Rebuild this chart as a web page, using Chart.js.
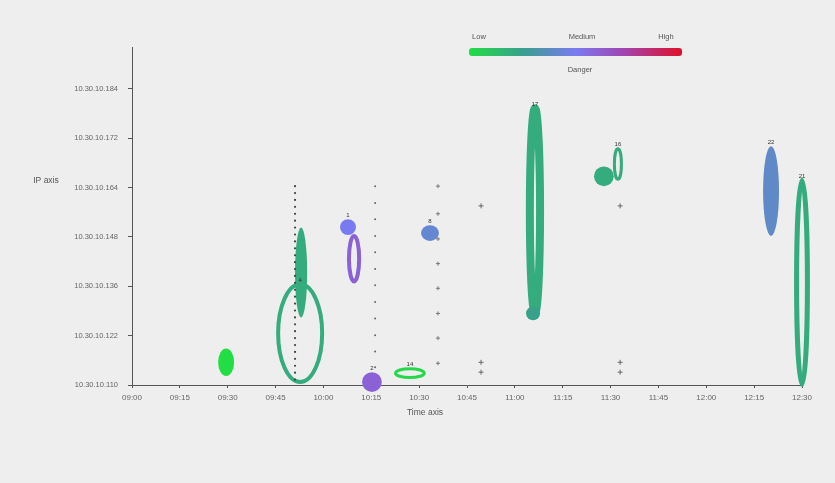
<!DOCTYPE html>
<html>
<head>
<meta charset="utf-8">
<script src="https://cdn.jsdelivr.net/npm/chart.js@4.4.1/dist/chart.umd.min.js"></script>
<style>
  html, body { margin: 0; padding: 0; background: #eeeeee; }
  #wrap { width: 835px; height: 483px; position: relative; }
</style>
</head>
<body>
<div id="wrap"><canvas id="c" width="835" height="483"></canvas></div>
<script>
// Time axis: minutes after 09:00, one tick every 15 minutes
const timeLabels = ["09:00","09:15","09:30","09:45","10:00","10:15","10:30","10:45",
                    "11:00","11:15","11:30","11:45","12:00","12:15","12:30"];
// Host axis: one row per address
const ipLabels = ["10.30.10.110","10.30.10.122","10.30.10.136","10.30.10.148",
                  "10.30.10.164","10.30.10.172","10.30.10.184"];

// Activity regions: centre (time, host row), half-extent in time and host, danger level 0..1
const regionTime   = [29.5, 52.7, 53.0, 69.6, 67.7, 75.2, 87.1, 93.4, 126.3, 125.7, 147.9, 152.3, 200.3, 210.0];
const regionHost   = [0.46, 1.05, 2.28, 2.56, 3.20, 0.06, 0.24, 3.08, 3.53, 1.45, 4.23, 4.48, 3.93, 2.08];
const regionSpanT  = [2.5, 6.9, 1.9, 1.6, 2.5, 3.1, 4.5, 2.8, 1.6, 2.2, 3.1, 1.1, 2.5, 1.7];
const regionSpanH  = [0.28, 0.99, 0.91, 0.46, 0.16, 0.20, 0.09, 0.16, 2.08, 0.14, 0.20, 0.31, 0.91, 2.07];
const regionDanger = [0.0, 0.2, 0.2, 0.6, 0.5, 0.6, 0.02, 0.42, 0.2, 0.24, 0.2, 0.2, 0.4, 0.2];
const regionTag    = ["", "4", "", "", "1", "2", "14", "8", "17", "", "", "16", "22", "21"];

// Drawing style per region: 0 = filled, otherwise outline width in px
const regionOutline = [0, 4, 0, 4, 0, 0, 3, 0, 8, 0, 0, 3, 0, 5];

// Sampled probes (time, host row)
const probeColA = [4.03, 3.89, 3.75, 3.61, 3.47, 3.33, 3.19, 3.05, 2.91, 2.77, 2.63, 2.49, 2.35, 2.21, 2.07,
                   1.93, 1.79, 1.65, 1.51, 1.37, 1.23, 1.09, 0.95, 0.81, 0.67, 0.53, 0.39, 0.25, 0.11];
const probeColB = [4.03, 3.69, 3.36, 3.02, 2.69, 2.35, 2.02, 1.68, 1.35, 1.01, 0.68, 0.36];
const probeColC = [4.03, 3.47, 2.96, 2.46, 1.96, 1.45, 0.95, 0.44];
const probeTimes = [51.1, 76.2, 95.9];
const markerTimes = [109.4, 153.0];
const markerHosts = [3.63, 0.46, 0.26];

// Danger colour ramp (legend bar and region colours)
const dangerStops = [[0, [34, 221, 68]], [0.25, [56, 160, 140]], [0.5, [122, 122, 240]],
                     [0.72, [160, 70, 180]], [1, [224, 16, 40]]];

function dangerColor(t) {
  for (let i = 1; i < dangerStops.length; i++) {
    const [t1, c1] = dangerStops[i];
    const [t0, c0] = dangerStops[i - 1];
    if (t <= t1) {
      const f = (t - t0) / (t1 - t0);
      const c = c0.map((v, k) => Math.round(v + (c1[k] - v) * f));
      return `rgb(${c[0]},${c[1]},${c[2]})`;
    }
  }
  const c = dangerStops[dangerStops.length - 1][1];
  return `rgb(${c[0]},${c[1]},${c[2]})`;
}

const FONT = "'Liberation Sans', Arial, sans-serif";

const regionsPlugin = {
  id: 'regions',
  beforeDatasetsDraw(chart) {
    const { ctx, scales: { x, y } } = chart;
    ctx.save();
    regionTime.forEach((t, i) => {
      const px = x.getPixelForValue(t);
      const py = y.getPixelForValue(regionHost[i]);
      const rx = Math.abs(x.getPixelForValue(t + regionSpanT[i]) - px);
      const ry = Math.abs(y.getPixelForValue(regionHost[i] + regionSpanH[i]) - py);
      const col = dangerColor(regionDanger[i]);
      ctx.beginPath();
      ctx.ellipse(px, py, rx, ry, 0, 0, Math.PI * 2);
      if (regionOutline[i] > 0) {
        ctx.strokeStyle = col;
        ctx.lineWidth = regionOutline[i];
        ctx.stroke();
      } else {
        ctx.fillStyle = col;
        ctx.fill();
      }
    });
    ctx.restore();
  },
  afterDatasetsDraw(chart) {
    const { ctx, scales: { x, y } } = chart;
    ctx.save();
    ctx.font = `6px ${FONT}`;
    ctx.fillStyle = '#333';
    ctx.textAlign = 'center';
    ctx.textBaseline = 'bottom';
    regionTime.forEach((t, i) => {
      if (!regionTag[i]) return;
      const px = x.getPixelForValue(t);
      const top = y.getPixelForValue(regionHost[i] + regionSpanH[i]);
      ctx.fillText(regionTag[i], px, top - 1);
    });
    ctx.restore();
  }
};

const decorPlugin = {
  id: 'decor',
  afterDraw(chart) {
    const { ctx } = chart;
    ctx.save();
    // axis titles
    ctx.fillStyle = '#555';
    ctx.font = `8.5px ${FONT}`;
    ctx.textAlign = 'center';
    ctx.textBaseline = 'middle';
    ctx.fillText('IP axis', 46, 181);
    ctx.fillText('Time axis', 425, 413);

    // danger legend
    const x0 = 469, x1 = 682, yb = 48, h = 8;
    const g = ctx.createLinearGradient(x0, 0, x1, 0);
    dangerStops.forEach(([t]) => g.addColorStop(t, dangerColor(t)));
    ctx.fillStyle = g;
    ctx.beginPath();
    ctx.roundRect(x0, yb, x1 - x0, h, 3);
    ctx.fill();
    ctx.fillStyle = '#555';
    ctx.font = `7.5px ${FONT}`;
    ctx.fillText('Low', 479, 37);
    ctx.fillText('Medium', 582, 37);
    ctx.fillText('High', 666, 37);
    ctx.fillText('Danger', 580, 70);
    ctx.restore();
  }
};

const probeData = [probeColA, probeColB, probeColC].map((col, k) =>
  col.map(h => ({ x: probeTimes[k], y: h })));
const markerData = [];
markerTimes.forEach(t => markerHosts.forEach(h => markerData.push({ x: t, y: h })));

new Chart(document.getElementById('c'), {
  type: 'scatter',
  data: {
    datasets: [
      { data: probeData[0], pointStyle: 'circle', pointRadius: 1.1, backgroundColor: '#444', borderWidth: 0 },
      { data: probeData[1], pointStyle: 'circle', pointRadius: 1.0, backgroundColor: '#666', borderWidth: 0 },
      { data: probeData[2], pointStyle: 'cross', pointRadius: 2, borderColor: '#777', borderWidth: 1 },
      { data: markerData, pointStyle: 'cross', pointRadius: 2.5, borderColor: '#666', borderWidth: 1 }
    ]
  },
  options: {
    responsive: false,
    animation: false,
    events: [],
    layout: { padding: { top: 47, right: 33, left: 0, bottom: 0 } },
    plugins: { legend: { display: false }, tooltip: { enabled: false } },
    scales: {
      x: {
        type: 'linear',
        min: 0,
        max: 210,
        afterFit(s) { s.height = 98; },
        border: { display: true, color: '#555', width: 1 },
        grid: { drawOnChartArea: false, drawTicks: true, tickLength: 3, color: '#555' },
        ticks: {
          stepSize: 15,
          padding: 5,
          color: '#666',
          font: { family: FONT, size: 8 },
          maxRotation: 0,
          autoSkip: false,
          callback: (v) => timeLabels[Math.round(v / 15)] ?? ''
        }
      },
      y: {
        type: 'linear',
        min: 0,
        max: 6.85,
        afterFit(s) { s.width = 132; },
        afterBuildTicks(s) { s.ticks = s.ticks.filter(t => Number.isInteger(t.value)); },
        border: { display: true, color: '#555', width: 1 },
        grid: { drawOnChartArea: false, drawTicks: true, tickLength: 4, color: '#555' },
        ticks: {
          stepSize: 1,
          padding: 10,
          color: '#666',
          font: { family: FONT, size: 7.5 },
          autoSkip: false,
          callback: (v) => ipLabels[v] ?? ''
        }
      }
    }
  },
  plugins: [regionsPlugin, decorPlugin]
});
</script>
</body>
</html>
